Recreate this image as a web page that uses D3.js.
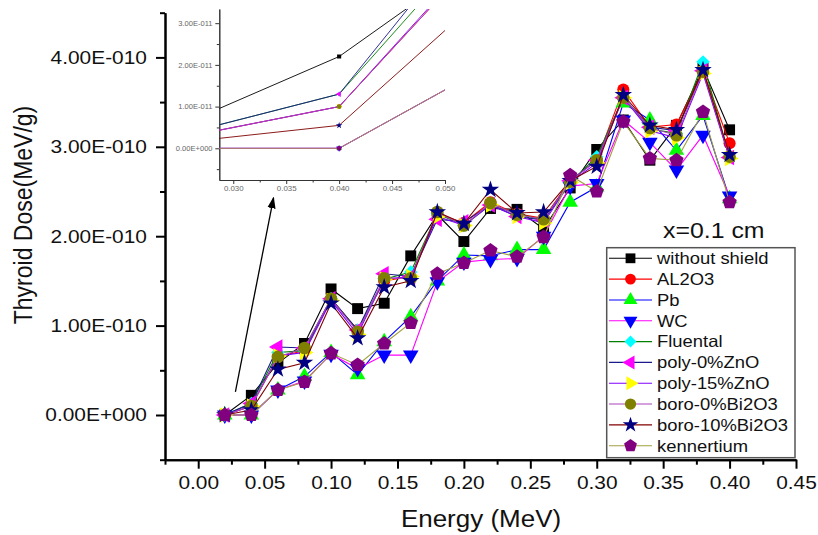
<!DOCTYPE html>
<html>
<head>
<meta charset="utf-8">
<script src="https://cdn.jsdelivr.net/npm/d3@7"></script>
<style>
  body { margin: 0; background: #fff; }
  svg { font-family: Arial, "Liberation Sans", sans-serif; }
</style>
</head>
<body>
<svg id="chart" width="818" height="535"></svg>
<script>
// energies (MeV)
const energy = [0.02, 0.04, 0.06, 0.08, 0.10, 0.12, 0.14, 0.16, 0.18, 0.20,
                0.22, 0.24, 0.26, 0.28, 0.30, 0.32, 0.34, 0.36, 0.38, 0.40];

// thyroid dose, in units of 1E-010 MeV/g
const withoutShield = [0.00, 0.22, 0.58, 0.80, 1.41, 1.19, 1.25, 1.78, 2.24, 1.94, 2.31, 2.30, 2.08, 2.54, 2.97, 3.30, 2.85, 3.24, 3.88, 3.19];
const al2o3         = [0.00, 0.10, 0.65, 0.72, 1.30, 0.95, 1.50, 1.55, 2.25, 2.15, 2.38, 2.25, 2.20, 2.62, 2.85, 3.64, 3.22, 3.25, 3.85, 3.04];
const pb            = [0.00, 0.00, 0.28, 0.43, 0.70, 0.45, 0.82, 1.10, 1.50, 1.79, 1.78, 1.85, 1.85, 2.38, 2.55, 3.49, 3.30, 2.96, 3.35, 2.42];
const wc            = [0.00, 0.00, 0.28, 0.38, 0.68, 0.52, 0.67, 0.67, 1.49, 1.71, 1.74, 1.75, 2.00, 2.56, 2.59, 3.30, 3.05, 2.74, 3.13, 2.45];
const fluental      = [0.00, 0.13, 0.70, 0.72, 1.30, 0.95, 1.52, 1.60, 2.25, 2.12, 2.35, 2.25, 2.18, 2.60, 2.89, 3.55, 3.20, 3.15, 3.95, 2.88];
const poly0ZnO      = [0.00, 0.13, 0.76, 0.75, 1.30, 0.95, 1.58, 1.55, 2.19, 2.16, 2.35, 2.22, 2.18, 2.62, 2.85, 3.55, 3.22, 3.18, 3.85, 2.88];
const poly15ZnO     = [0.00, 0.10, 0.66, 0.70, 1.28, 0.90, 1.52, 1.55, 2.22, 2.12, 2.35, 2.22, 2.15, 2.60, 2.82, 3.55, 3.18, 3.10, 3.82, 2.87];
const boro0Bi2O3    = [0.00, 0.10, 0.65, 0.75, 1.30, 0.93, 1.53, 1.53, 2.27, 2.12, 2.37, 2.24, 2.19, 2.61, 2.85, 3.55, 3.21, 3.13, 3.84, 2.89];
const boro10Bi2O3   = [0.00, 0.055, 0.51, 0.585, 1.25, 0.86, 1.43, 1.50, 2.27, 2.14, 2.52, 2.26, 2.27, 2.62, 2.78, 3.58, 3.24, 3.19, 3.86, 2.91];
const kennertium    = [0.00, 0.00, 0.28, 0.37, 0.69, 0.56, 0.80, 1.03, 1.58, 1.70, 1.84, 1.77, 1.99, 2.68, 2.50, 3.28, 2.87, 2.85, 3.39, 2.38];
const unit = 1e-10;

const seriesNames = ["without shield", "AL2O3", "Pb", "WC", "Fluental", "poly-0%ZnO",
                     "poly-15%ZnO", "boro-0%Bi2O3", "boro-10%Bi2O3", "kennertium"];
const seriesValues = [withoutShield, al2o3, pb, wc, fluental, poly0ZnO,
                      poly15ZnO, boro0Bi2O3, boro10Bi2O3, kennertium];

const xTicks = [0, 0.05, 0.10, 0.15, 0.20, 0.25, 0.30, 0.35, 0.40, 0.45];
const yTicks = [0, 1e-10, 2e-10, 3e-10, 4e-10];
const insetXTicks = [0.030, 0.035, 0.040, 0.045, 0.050];
const insetYTicks = [0, 1e-11, 2e-11, 3e-11];
const legendTitle = "x=0.1 cm";
// arrow from the low-energy points up to the inset (data units)
const arrowFrom = [0.028, 0.26e-10];
const arrowTo = [0.0567, 2.43e-10];

// ---- styles ----
const pentagon = {
  draw(ctx, size) {
    const r = Math.sqrt(size / 2.378);
    for (let i = 0; i < 5; i++) {
      const a = -Math.PI / 2 + i * 2 * Math.PI / 5;
      if (i) ctx.lineTo(r * Math.cos(a), r * Math.sin(a));
      else ctx.moveTo(r * Math.cos(a), r * Math.sin(a));
    }
    ctx.closePath();
  }
};
const styles = [
  {line: "#000000", fill: "#000000", type: d3.symbolSquare, rot: 0, size: 120},
  {line: "#ff0000", fill: "#ff0000", type: d3.symbolCircle, rot: 0, size: 115},
  {line: "#0000ff", fill: "#00ff00", type: d3.symbolTriangle, rot: 0, size: 105},
  {line: "#ff00ff", fill: "#0000ff", type: d3.symbolTriangle, rot: 180, size: 105},
  {line: "#008000", fill: "#00ffff", type: d3.symbolSquare, rot: 45, size: 90},
  {line: "#1a1a8c", fill: "#ff00ff", type: d3.symbolTriangle, rot: -90, size: 105},
  {line: "#8000ff", fill: "#ffff00", type: d3.symbolTriangle, rot: 90, size: 105},
  {line: "#aa44bb", fill: "#808000", type: d3.symbolCircle, rot: 0, size: 125},
  {line: "#800000", fill: "#000080", type: d3.symbolStar, rot: 0, size: 95},
  {line: "#a0a040", fill: "#800080", type: pentagon, rot: 0, size: 135}
];
const sx = 1.13; // text in the picture is a little wider than tall

const svg = d3.select("#chart");

const x = d3.scaleLinear().domain([-0.025, 0.45]).range([165, 796]);
const y = d3.scaleLinear().domain([-0.5e-10, 4.5e-10]).range([459.7, 12.7]);

function sciFormat(d) {
  if (d === 0) return "0.00E+000";
  const e = Math.floor(Math.log10(Math.abs(d)) + 1e-9);
  const m = d / Math.pow(10, e);
  return m.toFixed(2) + "E" + (e < 0 ? "-" : "+") + String(Math.abs(e)).padStart(3, "0");
}

// ---- main axes ----
const yAxisG = svg.append("g").attr("transform", "translate(165,0)")
  .call(d3.axisLeft(y).tickValues(yTicks).tickSize(9).tickSizeOuter(0).tickPadding(7).tickFormat(sciFormat));
svg.append("g").attr("transform", "translate(165,0)")
  .call(d3.axisLeft(y).tickValues(d3.range(-0.5, 4.6, 1).map(v => v * 1e-10)).tickSize(5).tickSizeOuter(0).tickFormat(""));
const xAxisG = svg.append("g").attr("transform", "translate(0,459.7)")
  .call(d3.axisBottom(x).tickValues(xTicks).tickSize(9).tickSizeOuter(0).tickPadding(7).tickFormat(d3.format(".2f")));
svg.append("g").attr("transform", "translate(0,459.7)")
  .call(d3.axisBottom(x).tickValues(d3.range(-0.025, 0.44, 0.05)).tickSize(5).tickSizeOuter(0).tickFormat(""));

svg.selectAll(".domain, .tick line").attr("stroke", "#000").attr("stroke-width", 2);
yAxisG.selectAll("text").attr("font-size", 18.5).attr("fill", "#111")
  .attr("transform", `scale(${sx},1)`);
xAxisG.selectAll("text").attr("font-size", 18.5).attr("fill", "#111")
  .attr("transform", `scale(${sx},1)`);

svg.append("text").attr("transform", `translate(481,527) scale(${sx},1)`)
  .attr("text-anchor", "middle").attr("font-size", 23).attr("fill", "#111")
  .text("Energy (MeV)");
svg.append("text").attr("transform", `translate(32,215) scale(${sx},1) rotate(-90)`)
  .attr("text-anchor", "middle").attr("font-size", 23).attr("fill", "#111")
  .text("Thyroid Dose(MeV/g)");

// ---- series ----
function pointsOf(vals) {
  return energy.map((e, i) => ({e: e, v: vals[i] * unit}));
}
const line = d3.line().x(d => x(d.e)).y(d => y(d.v));

seriesValues.forEach((vals, k) => {
  const st = styles[k];
  const g = svg.append("g").attr("class", "series");
  g.append("path").datum(pointsOf(vals))
    .attr("d", line).attr("fill", "none")
    .attr("stroke", st.line).attr("stroke-width", 1.1);
  g.selectAll("path.mark").data(pointsOf(vals)).join("path")
    .attr("class", "mark")
    .attr("d", d3.symbol().type(st.type).size(st.size))
    .attr("transform", d => `translate(${x(d.e)},${y(d.v)}) rotate(${st.rot})`)
    .attr("fill", st.fill);
});

// ---- arrow ----
svg.append("defs").append("marker")
  .attr("id", "head").attr("viewBox", "0 0 10 10").attr("refX", 9).attr("refY", 5)
  .attr("markerWidth", 9).attr("markerHeight", 9).attr("orient", "auto")
  .append("path").attr("d", "M0,1.5 L10,5 L0,8.5 Z").attr("fill", "#000");
svg.append("line")
  .attr("x1", x(arrowFrom[0])).attr("y1", y(arrowFrom[1]))
  .attr("x2", x(arrowTo[0])).attr("y2", y(arrowTo[1]))
  .attr("stroke", "#000").attr("stroke-width", 1.3).attr("marker-end", "url(#head)");

// ---- inset ----
const xi = d3.scaleLinear().domain([0.02868, 0.05]).range([219.3, 445]);
const yi = d3.scaleLinear().domain([-0.76e-11, 3.34e-11]).range([180, 9]);

svg.append("clipPath").attr("id", "insetClip").append("rect")
  .attr("x", 219.3).attr("y", 9).attr("width", 445 - 219.3).attr("height", 171);

const inset = svg.append("g");
const iy = inset.append("g").attr("transform", "translate(219.3,0)")
  .call(d3.axisLeft(yi).tickValues(insetYTicks).tickSize(4).tickSizeOuter(0).tickPadding(2).tickFormat(sciFormat));
inset.append("g").attr("transform", "translate(219.3,0)")
  .call(d3.axisLeft(yi).tickValues([-0.5e-11, 0.5e-11, 1.5e-11, 2.5e-11]).tickSize(2.5).tickSizeOuter(0).tickFormat(""));
const ix = inset.append("g").attr("transform", "translate(0,180)")
  .call(d3.axisBottom(xi).tickValues(insetXTicks).tickSize(4).tickSizeOuter(0).tickPadding(2).tickFormat(d3.format(".3f")));
inset.append("g").attr("transform", "translate(0,180)")
  .call(d3.axisBottom(xi).tickValues([0.0325, 0.0375, 0.0425, 0.0475]).tickSize(2.5).tickSizeOuter(0).tickFormat(""));
inset.selectAll(".domain, .tick line").attr("stroke", "#333").attr("stroke-width", 1);
iy.selectAll("text").attr("font-size", 6.7).attr("fill", "#666").attr("transform", `scale(${sx},1)`);
ix.selectAll("text").attr("font-size", 7).attr("fill", "#666").attr("transform", `scale(${sx},1)`);

const insetPlot = inset.append("g").attr("clip-path", "url(#insetClip)");
const lineIn = d3.line().x(d => xi(d.e)).y(d => yi(d.v));
seriesValues.forEach((vals, k) => {
  const st = styles[k];
  insetPlot.append("path").datum(pointsOf(vals))
    .attr("d", lineIn).attr("fill", "none")
    .attr("stroke", st.line).attr("stroke-width", 0.9);
  insetPlot.selectAll(null).data(pointsOf(vals).filter(d => d.e > 0.03 && d.e < 0.05)).join("path")
    .attr("d", d3.symbol().type(st.type).size(st.size * 0.14))
    .attr("transform", d => `translate(${xi(d.e)},${yi(d.v)}) rotate(${st.rot})`)
    .attr("fill", st.fill);
});

// ---- legend ----
const lg = svg.append("g");
lg.append("text").attr("transform", `translate(663,238) scale(${sx},1)`)
  .attr("font-size", 22).attr("fill", "#111").text(legendTitle);
lg.append("rect").attr("x", 606.7).attr("y", 247.7).attr("width", 188.3).attr("height", 210)
  .attr("fill", "#fff").attr("stroke", "#555").attr("stroke-width", 1.5);
const rowY = d3.scaleLinear().domain([0, 9]).range([258.3, 445.7]);
seriesNames.forEach((name, k) => {
  const st = styles[k];
  const yy = rowY(k);
  lg.append("line").attr("x1", 609).attr("x2", 652).attr("y1", yy).attr("y2", yy)
    .attr("stroke", st.line).attr("stroke-width", 1.1);
  lg.append("path").attr("d", d3.symbol().type(st.type).size(st.size * 0.8))
    .attr("transform", `translate(630.5,${yy}) rotate(${st.rot})`).attr("fill", st.fill);
  lg.append("text").attr("transform", `translate(657,${yy + 5.8}) scale(${sx},1)`)
    .attr("font-size", 16.3).attr("fill", "#111").text(name);
});
</script>
</body>
</html>
